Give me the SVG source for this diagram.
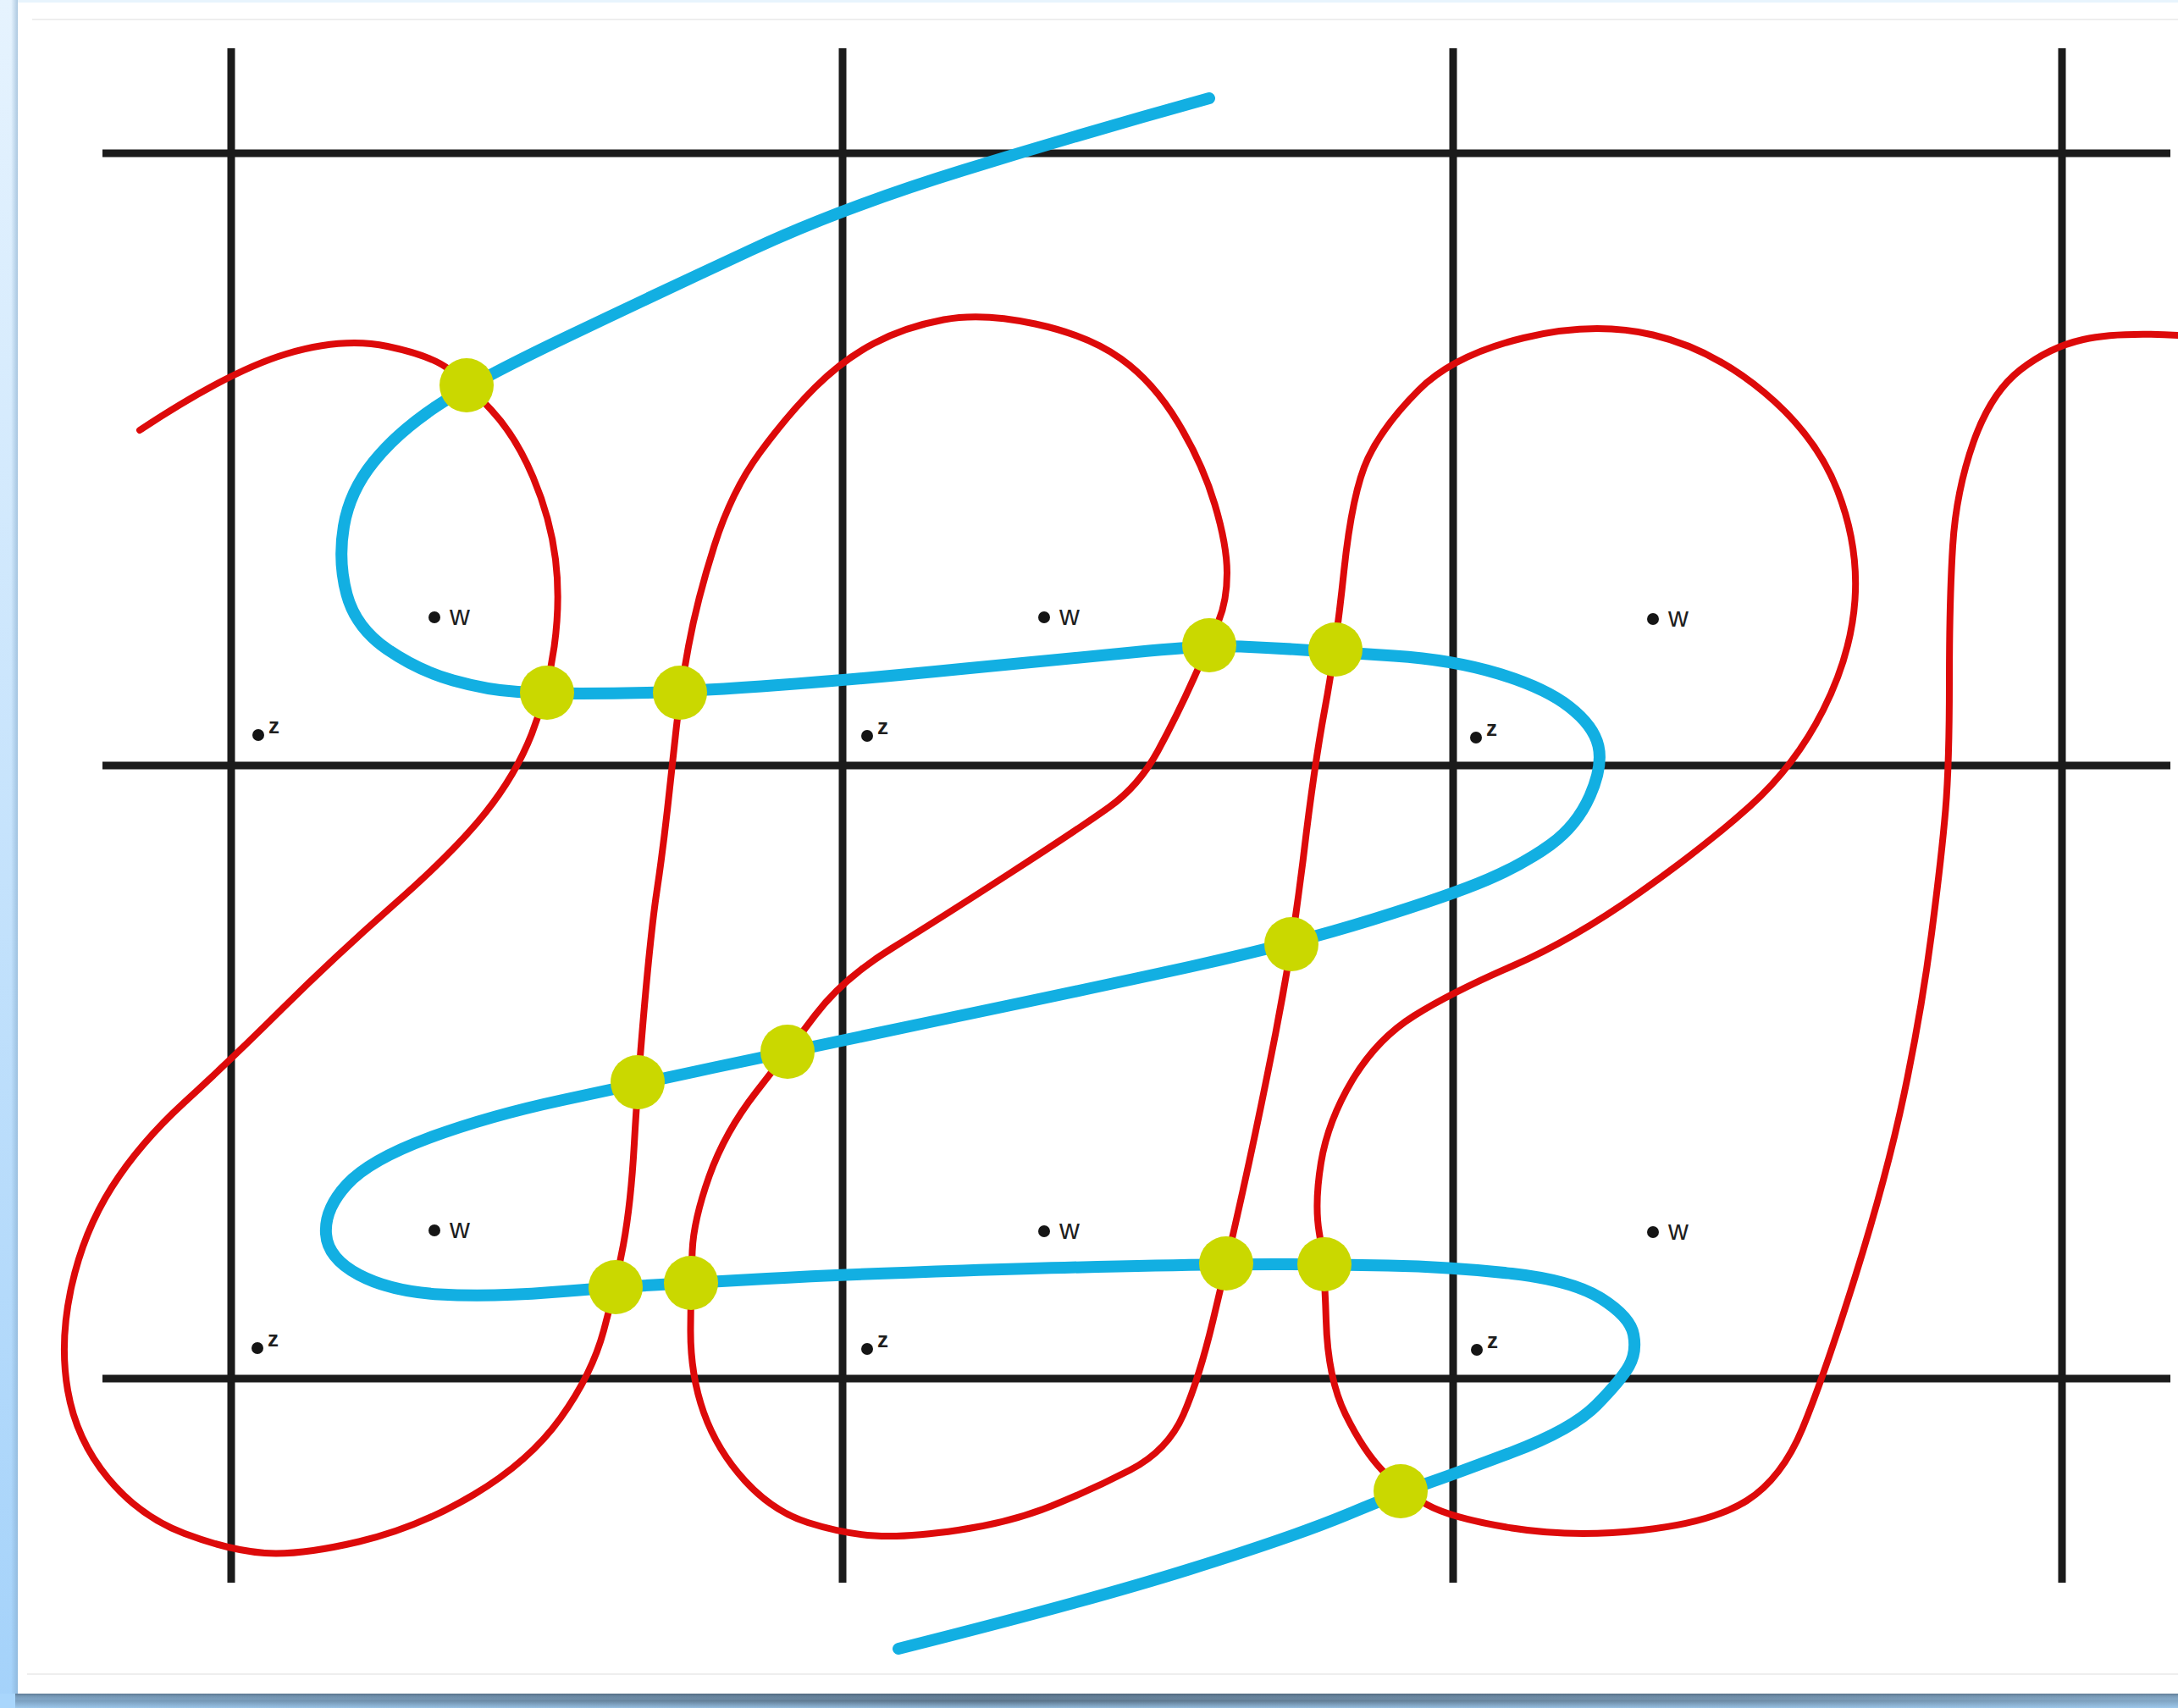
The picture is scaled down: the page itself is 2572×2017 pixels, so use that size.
<svg xmlns="http://www.w3.org/2000/svg" width="2572" height="2017" viewBox="0 0 2572 2017">
<defs>
<linearGradient id="leftStrip" x1="0" y1="0" x2="0" y2="1">
<stop offset="0" stop-color="#e6f3fe"/>
<stop offset="1" stop-color="#a4d2fa"/>
</linearGradient>
<linearGradient id="leftShade" x1="0" y1="0" x2="1" y2="0">
<stop offset="0" stop-color="#7fa6c8" stop-opacity="0"/>
<stop offset="1" stop-color="#7fa6c8" stop-opacity="0.55"/>
</linearGradient>
<linearGradient id="bottomStrip" x1="0" y1="0" x2="1" y2="0">
<stop offset="0" stop-color="#7da2c2"/>
<stop offset="0.45" stop-color="#5a7389"/>
<stop offset="0.8" stop-color="#6e8ca6"/>
<stop offset="1" stop-color="#82a6c4"/>
</linearGradient>
<linearGradient id="bottomFade" x1="0" y1="0" x2="0" y2="1">
<stop offset="0" stop-color="#3e5266" stop-opacity="0.5"/>
<stop offset="0.5" stop-color="#a9d6fc" stop-opacity="0"/>
<stop offset="1" stop-color="#a9d6fc" stop-opacity="0.7"/>
</linearGradient>
</defs>
<style>
.grid{stroke:#1b1b1b;stroke-width:9;fill:none}
.red{stroke:#dd0a0a;stroke-width:8;fill:none;stroke-linecap:round;stroke-linejoin:round}
.blue{stroke:#12afe2;stroke-width:14;fill:none;stroke-linecap:round;stroke-linejoin:round}
.dot{fill:#cad800}
.pt{fill:#151515}
.w{font-family:"Liberation Sans",Arial,sans-serif;font-size:33px;fill:#1e1e1e}
.z{font-family:"Liberation Sans",Arial,sans-serif;font-size:26px;font-weight:bold;fill:#1e1e1e}
.faint{stroke:#eeeeee;stroke-width:2}
</style>
<g id="frame">
<rect x="0" y="0" width="2572" height="2017" fill="#ffffff"/>
<rect x="0" y="0" width="2572" height="3" fill="#e8f4fd"/>
<rect x="0" y="0" width="21" height="2017" fill="url(#leftStrip)"/>
<rect x="13" y="0" width="8" height="2000" fill="url(#leftShade)"/>
<rect x="0" y="2000" width="2572" height="17" fill="url(#bottomStrip)"/>
<rect x="0" y="2000" width="2572" height="17" fill="url(#bottomFade)"/>
<rect x="0" y="2000" width="18" height="17" fill="#a9d6fc"/>
<line class="faint" x1="38" y1="23" x2="2572" y2="23"/>
<line class="faint" x1="32" y1="1977" x2="2572" y2="1977"/>
</g>
<g id="grid">
<line class="grid" x1="273" y1="57" x2="273" y2="1869"/>
<line class="grid" x1="995" y1="57" x2="995" y2="1869"/>
<line class="grid" x1="1716" y1="57" x2="1716" y2="1869"/>
<line class="grid" x1="2435" y1="57" x2="2435" y2="1869"/>
<line class="grid" x1="121" y1="181" x2="2563" y2="181"/>
<line class="grid" x1="121" y1="904" x2="2563" y2="904"/>
<line class="grid" x1="121" y1="1628" x2="2563" y2="1628"/>
</g>
<g id="connectors">
<path id="red-curve" class="red" d="M165,508 Q271,438 338,418 Q405,398 457.5,409 Q510,420 530.5,436.5 Q551,453 580,484 Q609,515 629.5,563.5 Q650,612 656,660.5 Q662,709 654.5,763.5 Q647,818 628,866.5 Q609,915 573,960 Q537,1005 466,1067.5 Q395,1130 333,1191.5 Q271,1253 218,1301.5 Q165,1350 132,1402 Q99,1454 84.5,1519 Q70,1584 80,1642 Q90,1700 127.5,1745.5 Q165,1791 218,1811 Q271,1831 312.5,1834 Q354,1837 424,1820.5 Q494,1804 559.5,1765 Q625,1726 662,1674.5 Q699,1623 713,1571 Q727,1519 736,1470.5 Q745,1422 749,1350.5 Q753,1279 761,1188 Q769,1097 775.5,1053.5 Q782,1010 788,957 Q794,904 798.5,861 Q803,818 813,763.5 Q823,709 843.5,644.5 Q864,580 897,535 Q930,490 962.5,457.5 Q995,425 1032,405.5 Q1069,386 1114.5,377.5 Q1160,369 1222.5,382.5 Q1285,396 1323.5,423.5 Q1362,451 1391,499 Q1420,547 1434.5,595.5 Q1449,644 1449,676.5 Q1449,709 1439,733.5 Q1429,758 1409.5,801.5 Q1390,845 1367.5,886.5 Q1345,928 1310,953 Q1275,978 1193,1031 Q1111,1084 1053,1120 Q995,1156 962.5,1199 Q930,1242 893,1289.5 Q856,1337 837.5,1389 Q819,1441 817.5,1477.5 Q816,1514 815.5,1568.5 Q815,1623 831,1668 Q847,1713 880,1749 Q913,1785 954,1798 Q995,1811 1032.5,1813.5 Q1070,1816 1131.5,1807 Q1193,1798 1241.5,1778.5 Q1290,1759 1334.5,1736 Q1379,1713 1397.5,1670.5 Q1416,1628 1432.5,1559 Q1449,1490 1467.5,1407 Q1486,1324 1506.5,1219.5 Q1527,1115 1539.5,1009.5 Q1552,904 1564.5,837 Q1577,770 1587,675 Q1597,580 1615.5,541 Q1634,502 1675.5,460.5 Q1717,419 1799.5,399 Q1882,379 1952,395.5 Q2022,412 2083.5,463.5 Q2145,515 2170,579.5 Q2195,644 2190.5,708.5 Q2186,773 2153,838.5 Q2120,904 2066.5,952 Q2013,1000 1935,1055 Q1857,1110 1785.5,1141 Q1714,1172 1670,1199.5 Q1626,1227 1597,1275.5 Q1568,1324 1560,1373 Q1552,1422 1558,1456.5 Q1564,1491 1566,1559.5 Q1568,1628 1589,1670.5 Q1610,1713 1632.5,1736.5 Q1655,1760 1684.5,1776.5 Q1714,1793 1785.5,1804.5 Q1857,1816 1939.5,1807 Q2022,1798 2063,1772 Q2104,1746 2128.5,1687 Q2153,1628 2190.5,1508.5 Q2228,1389 2248.5,1292 Q2269,1195 2281,1102.5 Q2293,1010 2297.5,956 Q2302,902 2302,805.5 Q2302,709 2306,644.5 Q2310,580 2330.5,522 Q2351,464 2385.5,437 Q2420,410 2460,401 Q2500,392 2572,396"/>
<path id="blue-curve" class="blue" d="M1428,116 Q1280,157 1137.5,201 Q995,245 887.5,295 Q780,345 670,397.5 Q560,450 515,480 Q470,510 441.5,545 Q413,580 406,621.5 Q399,663 409.5,702 Q420,741 457,766.5 Q494,792 535,803.5 Q576,815 611.5,817 Q647,819 686,819 Q725,819 764,818 Q803,817 899,810.5 Q995,804 1140,789.5 Q1285,775 1357,768.5 Q1429,762 1465.5,763.5 Q1502,765 1539.5,767.5 Q1577,770 1646,774.5 Q1715,779 1769.5,795.5 Q1824,812 1853,834.5 Q1882,857 1887.5,881 Q1893,905 1877.5,940 Q1862,975 1831,997.5 Q1800,1020 1757,1038.5 Q1714,1057 1620.5,1086 Q1527,1115 1406,1141.5 Q1285,1168 1107.5,1205 Q930,1242 841.5,1261 Q753,1280 664.5,1299 Q576,1318 506,1344 Q436,1370 409.5,1399 Q383,1428 385,1457 Q387,1486 424,1505.5 Q461,1525 518.5,1528.5 Q576,1532 651.5,1526 Q727,1520 771.5,1517.5 Q816,1515 905.5,1510 Q995,1505 1137.5,1500.5 Q1280,1496 1364.5,1494.5 Q1449,1493 1506.5,1493 Q1564,1493 1639,1494.5 Q1714,1496 1785.5,1504 Q1857,1512 1891,1533.5 Q1925,1555 1929,1576 Q1933,1597 1923.5,1613.5 Q1914,1630 1885.5,1659 Q1857,1688 1785.5,1715 Q1714,1742 1684.5,1752 Q1655,1762 1591,1788.5 Q1527,1815 1403.5,1853.5 Q1280,1892 1061,1947"/>
</g>
<g id="intersections">
<g id="x1"><circle class="dot" cx="551" cy="455" r="32"/></g>
<g id="x2"><circle class="dot" cx="646" cy="818" r="32"/></g>
<g id="x3"><circle class="dot" cx="803" cy="818" r="32"/></g>
<g id="x4"><circle class="dot" cx="1428" cy="762" r="32"/></g>
<g id="x5"><circle class="dot" cx="1577" cy="767" r="32"/></g>
<g id="x6"><circle class="dot" cx="1525" cy="1115" r="32"/></g>
<g id="x7"><circle class="dot" cx="930" cy="1242" r="32"/></g>
<g id="x8"><circle class="dot" cx="753" cy="1278" r="32"/></g>
<g id="x9"><circle class="dot" cx="727" cy="1520" r="32"/></g>
<g id="x10"><circle class="dot" cx="816" cy="1515" r="32"/></g>
<g id="x11"><circle class="dot" cx="1448" cy="1492" r="32"/></g>
<g id="x12"><circle class="dot" cx="1564" cy="1493" r="32"/></g>
<g id="x13"><circle class="dot" cx="1654" cy="1761" r="32"/></g>
</g>
<g id="labels">
<g id="w1"><circle class="pt" cx="513" cy="729" r="7"/><text class="w" x="531" y="738">w</text></g>
<g id="w2"><circle class="pt" cx="1233" cy="729" r="7"/><text class="w" x="1251" y="738">w</text></g>
<g id="w3"><circle class="pt" cx="1952" cy="731" r="7"/><text class="w" x="1970" y="740">w</text></g>
<g id="w4"><circle class="pt" cx="513" cy="1453" r="7"/><text class="w" x="531" y="1462">w</text></g>
<g id="w5"><circle class="pt" cx="1233" cy="1454" r="7"/><text class="w" x="1251" y="1463">w</text></g>
<g id="w6"><circle class="pt" cx="1952" cy="1455" r="7"/><text class="w" x="1970" y="1464">w</text></g>
<g id="z1"><circle class="pt" cx="305" cy="868" r="7"/><text class="z" x="317" y="866">z</text></g>
<g id="z2"><circle class="pt" cx="1024" cy="869" r="7"/><text class="z" x="1036" y="867">z</text></g>
<g id="z3"><circle class="pt" cx="1743" cy="871" r="7"/><text class="z" x="1755" y="869">z</text></g>
<g id="z4"><circle class="pt" cx="304" cy="1592" r="7"/><text class="z" x="316" y="1590">z</text></g>
<g id="z5"><circle class="pt" cx="1024" cy="1593" r="7"/><text class="z" x="1036" y="1591">z</text></g>
<g id="z6"><circle class="pt" cx="1744" cy="1594" r="7"/><text class="z" x="1756" y="1592">z</text></g>
</g>
</svg>
